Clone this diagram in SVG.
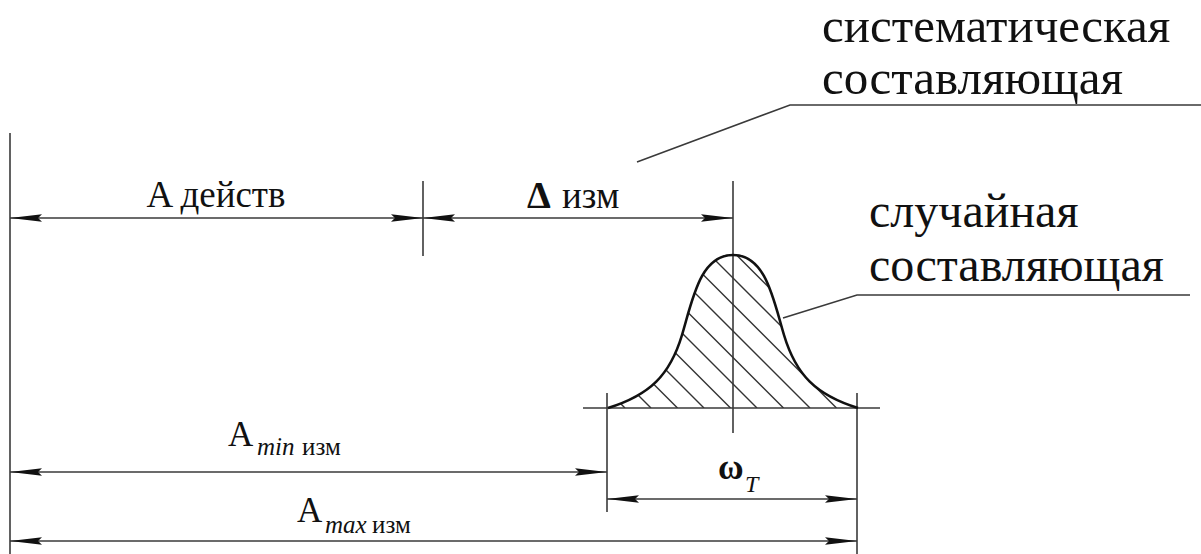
<svg xmlns="http://www.w3.org/2000/svg" width="1201" height="554" viewBox="0 0 1201 554">
  <style>
    .ln { stroke: #3a3a3a; stroke-width: 1.6; fill: none; }
    .dim { stroke: #3a3a3a; stroke-width: 1.6; fill: none; marker-start: url(#ah); marker-end: url(#ah); }
    .hatch { stroke: #333; stroke-width: 1.4; fill: none; }
    .bell { stroke: #111; stroke-width: 2.6; fill: none; }
    text { fill: #111; }
    .it { font-style: italic; }
    .b { font-weight: bold; }
  </style>
  <defs>
    <marker id="ah" viewBox="0 0 32 9" refX="32" refY="4.5" markerWidth="32" markerHeight="9" markerUnits="userSpaceOnUse" orient="auto-start-reverse">
      <path d="M0,0.8 L32,4.5 L0,8.2 L4,4.5 Z" fill="#111"/>
    </marker>
    <clipPath id="bellClip">
      <path d="M608,408 C650,395 670,375 682,335 C692.5,300 700,255 733,255 C766,255 773.5,300 784,335 C796,375 816,395 858,408 Z"/>
    </clipPath>
  </defs>

  <g id="extension-lines">
    <line class="ln" x1="10" y1="133" x2="10" y2="554"/>
    <line class="ln" x1="423" y1="181" x2="423" y2="256"/>
    <line class="ln" x1="733" y1="181" x2="733" y2="433"/>
    <line class="ln" x1="607" y1="393" x2="607" y2="512"/>
    <line class="ln" x1="857" y1="393" x2="857" y2="554"/>
    <line class="ln" x1="583" y1="408" x2="880" y2="408"/>
  </g>

  <g id="bell-curve">
    <g clip-path="url(#bellClip)">
      <path class="hatch" d="M425,208 L625,408 M451,208 L651,408 M477.5,208 L677.5,408 M504,208 L704,408 M530.5,208 L730.5,408 M557,208 L757,408 M583.5,208 L783.5,408 M610,208 L810,408 M636.5,208 L836.5,408 M663,208 L863,408 M689.5,208 L889.5,408"/>
    </g>
    <path class="bell" d="M608,408 C650,395 670,375 682,335 C692.5,300 700,255 733,255 C766,255 773.5,300 784,335 C796,375 816,395 858,408"/>
  </g>

  <g id="connectors">
    <line class="dim" x1="10" y1="218" x2="423" y2="218"/>
    <line class="dim" x1="423" y1="218" x2="733" y2="218"/>
    <line class="dim" x1="10" y1="472" x2="607" y2="472"/>
    <line class="dim" x1="607" y1="499" x2="857" y2="499"/>
    <line class="dim" x1="10" y1="541" x2="857" y2="541"/>
    <polyline class="ln" points="637,162 790,105 1201,105"/>
    <polyline class="ln" points="783,318 857,295 1190,295"/>
  </g>

  <g font-family="'Liberation Serif', 'DejaVu Serif', serif">
    <g id="label-a-deistv">
      <text x="216" y="207" font-size="37" text-anchor="middle">A действ</text>
    </g>
    <g id="label-delta-izm">
      <text class="b" x="527" y="208" font-size="38">Δ</text>
      <text x="562" y="208" font-size="37">изм</text>
    </g>
    <g id="label-a-min">
      <text x="228" y="446" font-size="35">A</text>
      <text class="it" x="257" y="455" font-size="25">min</text>
      <text x="302" y="455" font-size="25">изм</text>
    </g>
    <g id="label-a-max">
      <text x="297" y="522" font-size="35">A</text>
      <text class="it" x="325" y="533" font-size="25">max</text>
      <text x="372" y="533" font-size="25">изм</text>
    </g>
    <g id="label-omega">
      <text class="b" x="718" y="479" font-size="35">ω</text>
      <text class="it" x="745" y="492" font-size="24">T</text>
    </g>
    <g id="label-systematic">
      <text x="822" y="42" font-size="49">систематическая</text>
      <text x="822" y="94" font-size="49">составляющая</text>
    </g>
    <g id="label-random">
      <text x="869" y="227" font-size="48">случайная</text>
      <text x="869" y="281" font-size="48">составляющая</text>
    </g>
  </g>
</svg>
